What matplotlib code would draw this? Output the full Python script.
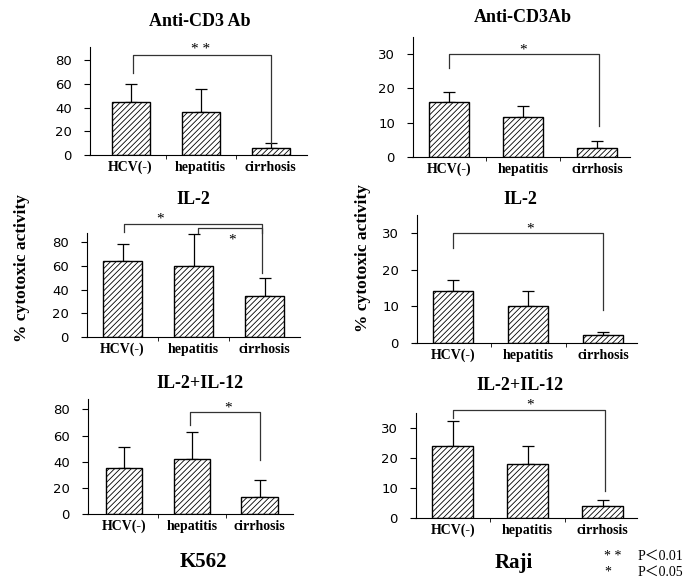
import matplotlib
matplotlib.use('Agg')
import matplotlib.pyplot as plt

W, H = 698, 579

categories = ['HCV(-)', 'hepatitis', 'cirrhosis']

# K562 target cells (% cytotoxic activity)
k562_cd3 = [45, 36, 6]
k562_cd3_err = [15, 19.5, 4.5]
k562_il2 = [64, 60, 34.5]
k562_il2_err = [14.5, 27, 15.5]
k562_il212 = [35.5, 42, 13]
k562_il212_err = [15.5, 21, 13]

# Raji target cells
raji_cd3 = [16, 11.8, 2.6]
raji_cd3_err = [2.9, 3, 2.2]
raji_il2 = [14.1, 10, 2.1]
raji_il2_err = [3.2, 4.1, 0.8]
raji_il212 = [24, 18, 3.9]
raji_il212_err = [8.2, 5.9, 2.1]

left_ticks = [0, 20, 40, 60, 80]
right_ticks = [0, 10, 20, 30]

# significance brackets: (x_left, y_left, x_right, y_right, y_top)
# stars: (x, y, text)
k562_cd3_br = [(0.03, 69, 2.0, 10, 84)]
k562_cd3_st = [(1.0, 89, '* *')]
k562_il2_br = [(0.02, 89, 1.96, 54, 96), (1.06, 88, 1.96, 88, 92)]
k562_il2_st = [(0.53, 100, '*'), (1.54, 82, '*')]
k562_il212_br = [(0.97, 68, 2.0, 41, 78)]
k562_il212_st = [(1.53, 81, '*')]
raji_cd3_br = [(0.0, 26, 2.02, 9, 30)]
raji_cd3_st = [(0.99, 31.2, '*')]
raji_il2_br = [(0.0, 26, 2.0, 9, 30)]
raji_il2_st = [(1.03, 31.2, '*')]
raji_il212_br = [(0.0, 33.3, 2.03, 9, 36)]
raji_il212_st = [(1.03, 37.5, '*')]

serif = ['Liberation Serif', 'DejaVu Serif']
plt.rcParams['hatch.linewidth'] = 0.6

fig = plt.figure(figsize=(W / 100, H / 100), dpi=100)


def px_rect(x0, y0, x1, y1):
    return [x0 / W, 1 - y1 / H, (x1 - x0) / W, (y1 - y0) / H]


def ftext(x, y, s, **kw):
    fig.text(x / W, 1 - y / H, s, ha='center', va='center', **kw)


def panel(rect, vals, errs, ytop, yticks, xlim, brackets, stars):
    ax = fig.add_axes(px_rect(*rect))
    x = range(len(categories))
    ax.bar(x, vals, width=0.54, color='white', edgecolor='black',
           hatch='//////', linewidth=1.0, zorder=2)
    ax.errorbar(x, vals, yerr=[[0] * len(errs), errs], fmt='none',
                ecolor='black', elinewidth=0.9, capsize=4.5, capthick=0.9,
                zorder=1)
    for xl, yl, xr, yr, yt in brackets:
        ax.plot([xl, xl, xr, xr], [yl, yt, yt, yr], color='#333333',
                lw=0.9, clip_on=False)
    for sx, sy, s in stars:
        ax.text(sx, sy, s, ha='center', va='center', fontsize=11,
                family=serif)
    ax.set_xlim(*xlim)
    ax.set_ylim(0, ytop)
    ax.set_yticks(yticks)
    ax.set_xticks(list(x))
    ax.set_xticklabels(categories, family=serif, fontweight='bold',
                       fontsize=10)
    ax.set_xticks([0.5, 1.5], minor=True)
    ax.tick_params(axis='x', which='major', length=0, pad=4)
    ax.tick_params(axis='x', which='minor', length=3, direction='out')
    ax.tick_params(axis='y', length=4, pad=9, labelsize=9.5)
    for sp in ['top', 'right']:
        ax.spines[sp].set_visible(False)
    ax.spines['bottom'].set_bounds(xlim[0] - 0.02, xlim[1])
    return ax


panel((90, 47, 307, 155), k562_cd3, k562_cd3_err, 91, left_ticks,
      (-0.58, 2.52), k562_cd3_br, k562_cd3_st)
panel((413, 37, 630, 157), raji_cd3, raji_cd3_err, 35, right_ticks,
      (-0.49, 2.44), raji_cd3_br, raji_cd3_st)
panel((87, 233, 300, 337), k562_il2, k562_il2_err, 88, left_ticks,
      (-0.5, 2.5), k562_il2_br, k562_il2_st)
panel((417, 215, 637, 343), raji_il2, raji_il2_err, 35, right_ticks,
      (-0.48, 2.45), raji_il2_br, raji_il2_st)
panel((88, 399, 293, 514), k562_il212, k562_il212_err, 88, left_ticks,
      (-0.53, 2.49), k562_il212_br, k562_il212_st)
panel((416, 413, 637, 518), raji_il212, raji_il212_err, 35, right_ticks,
      (-0.49, 2.46), raji_il212_br, raji_il212_st)

tkw = dict(family=serif, fontweight='bold', fontsize=13)
ftext(200, 21, 'Anti-CD3 Ab', **tkw)
ftext(523, 17, 'Anti-CD3Ab', **tkw)
ftext(193, 200, 'IL-2', **tkw)
ftext(520, 200, 'IL-2', **tkw)
ftext(200, 383, 'IL-2+IL-12', **tkw)
ftext(520, 385, 'IL-2+IL-12', **tkw)

ftext(22, 268, '% cytotoxic activity', rotation=90, family=serif,
      fontweight='bold', fontsize=12.5)
ftext(363, 258, '% cytotoxic activity', rotation=90, family=serif,
      fontweight='bold', fontsize=12.5)

ftext(203, 562, 'K562', family=serif, fontweight='bold', fontsize=15)
ftext(514, 563, 'Raji', family=serif, fontweight='bold', fontsize=15)

lg = ['Liberation Serif', 'Noto Sans CJK JP']
fig.text(604 / W, 1 - 556 / H, '* *', ha='left', va='center',
         fontsize=10, family=lg)
fig.text(638 / W, 1 - 556 / H, 'P\uff1c0.01', ha='left', va='center',
         fontsize=10, family=lg)
fig.text(604 / W, 1 - 572 / H, '*', ha='left', va='center',
         fontsize=10, family=lg)
fig.text(638 / W, 1 - 572 / H, 'P\uff1c0.05', ha='left', va='center',
         fontsize=10, family=lg)

fig.savefig('out.png', dpi=100)
